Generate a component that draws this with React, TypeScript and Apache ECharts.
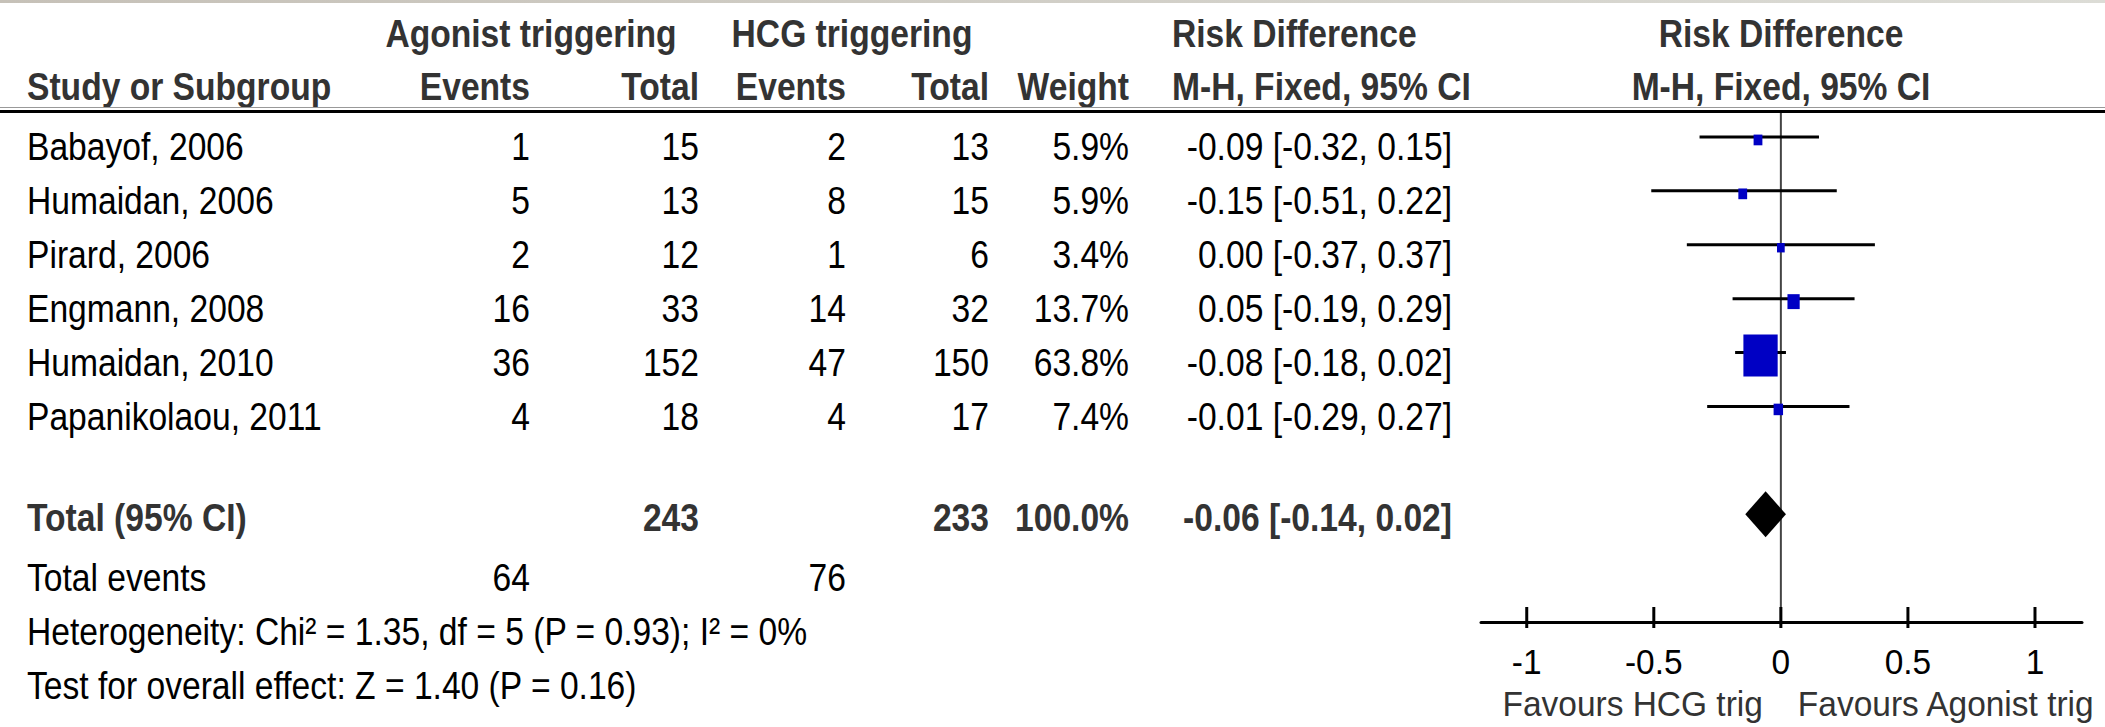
import React, { useEffect, useRef } from 'react';
import * as echarts from 'echarts';

// ---------- data ----------
const studies = ['Babayof, 2006', 'Humaidan, 2006', 'Pirard, 2006', 'Engmann, 2008', 'Humaidan, 2010', 'Papanikolaou, 2011'];
const agonistEvents = [1, 5, 2, 16, 36, 4];
const agonistTotal = [15, 13, 12, 33, 152, 18];
const hcgEvents = [2, 8, 1, 14, 47, 4];
const hcgTotal = [13, 15, 6, 32, 150, 17];
const weights = [5.9, 5.9, 3.4, 13.7, 63.8, 7.4];
const riskDiff = [-0.09, -0.15, 0.0, 0.05, -0.08, -0.01];
const ciLow = [-0.32, -0.51, -0.37, -0.19, -0.18, -0.29];
const ciHigh = [0.15, 0.22, 0.37, 0.29, 0.02, 0.27];

const totalLabel = 'Total (95% CI)';
const totalAgonist = 243;
const totalHcg = 233;
const totalWeight = 100.0;
const totalRD = -0.06;
const totalLow = -0.14;
const totalHigh = 0.02;

const totalEventsLabel = 'Total events';
const totalEventsAgonist = 64;
const totalEventsHcg = 76;
const heterogeneityText = 'Heterogeneity: Chi² = 1.35, df = 5 (P = 0.93); I² = 0%';
const overallEffectText = 'Test for overall effect: Z = 1.40 (P = 0.16)';

const tickValues = [-1, -0.5, 0, 0.5, 1];
const tickLabels = ['-1', '-0.5', '0', '0.5', '1'];
const favoursLeft = 'Favours HCG trig';
const favoursRight = 'Favours Agonist trig';

const headerTop = ['Agonist triggering', 'HCG triggering', 'Risk Difference', 'Risk Difference'];
const headerBottom = ['Study or Subgroup', 'Events', 'Total', 'Events', 'Total', 'Weight', 'M-H, Fixed, 95% CI', 'M-H, Fixed, 95% CI'];

// ---------- layout ----------
const FONT = '"Liberation Sans", Arial, sans-serif';
const FS = 39;
const SX = 0.862;
const FS_AX = 36;
const SX_AX = 0.93;
const COL = {
  study: 27,
  agoEv: 530,
  agoTot: 699,
  hcgEv: 846,
  hcgTot: 989,
  weight: 1129,
  ciRight: 1452,
  ciLeft: 1172,
  plotCenter: 1781,
};
const ROW_TOTAL = 7;
const ROW_TOTAL_EVENTS = 8;
const ROW_HET = 9;
const ROW_TEST = 10;
const AXIS_ROW = 9;

const fmt2 = (v: number) => v.toFixed(2);
const ciText = (m: number, l: number, h: number) => `${fmt2(m)} [${fmt2(l)}, ${fmt2(h)}]`;

type Cell = { text: string; x: number; align: 'left' | 'right' | 'center'; bold?: boolean };
type Row = { row: number; dy: number; cells: Cell[] };

const tableRows: Row[] = [
  ...studies.map((s, i) => ({
    row: i,
    dy: 10,
    cells: [
      { text: s, x: COL.study, align: 'left' as const },
      { text: String(agonistEvents[i]), x: COL.agoEv, align: 'right' as const },
      { text: String(agonistTotal[i]), x: COL.agoTot, align: 'right' as const },
      { text: String(hcgEvents[i]), x: COL.hcgEv, align: 'right' as const },
      { text: String(hcgTotal[i]), x: COL.hcgTot, align: 'right' as const },
      { text: `${weights[i].toFixed(1)}%`, x: COL.weight, align: 'right' as const },
      { text: ciText(riskDiff[i], ciLow[i], ciHigh[i]), x: COL.ciRight, align: 'right' as const },
    ],
  })),
  {
    row: ROW_TOTAL,
    dy: 3,
    cells: [
      { text: totalLabel, x: COL.study, align: 'left', bold: true },
      { text: String(totalAgonist), x: COL.agoTot, align: 'right', bold: true },
      { text: String(totalHcg), x: COL.hcgTot, align: 'right', bold: true },
      { text: `${totalWeight.toFixed(1)}%`, x: COL.weight, align: 'right', bold: true },
      { text: ciText(totalRD, totalLow, totalHigh), x: COL.ciRight, align: 'right', bold: true },
    ],
  },
  {
    row: ROW_TOTAL_EVENTS,
    dy: 10,
    cells: [
      { text: totalEventsLabel, x: COL.study, align: 'left' },
      { text: String(totalEventsAgonist), x: COL.agoEv, align: 'right' },
      { text: String(totalEventsHcg), x: COL.hcgEv, align: 'right' },
    ],
  },
  { row: ROW_HET, dy: 10, cells: [{ text: heterogeneityText, x: COL.study, align: 'left' }] },
  { row: ROW_TEST, dy: 10, cells: [{ text: overallEffectText, x: COL.study, align: 'left' }] },
];

const boxWidth = (w: number) => 6.2 + 0.44 * w;

export default function App() {
  const ref = useRef<HTMLDivElement>(null);

  useEffect(() => {
    const chart = echarts.init(ref.current!, null, { renderer: 'svg' });

    const headerText = (text: string, x: number, y: number, align: string) => ({
      type: 'text',
      x,
      y,
      scaleX: SX,
      silent: true,
      style: {
        text,
        fill: '#333',
        fontFamily: FONT,
        fontSize: FS,
        fontWeight: 'bold',
        align,
        verticalAlign: 'middle',
      },
    });

    const option: any = {
      animation: false,
      backgroundColor: '#ffffff',
      grid: { left: 1481, right: 23, top: 110, bottom: 105, containLabel: false },
      xAxis: {
        type: 'value',
        min: -1.18,
        max: 1.185,
        splitLine: { show: false },
        axisLine: { show: true, onZero: false, lineStyle: { color: '#000', width: 3 } },
        axisTick: { show: false },
        axisLabel: { show: false },
      },
      yAxis: {
        type: 'value',
        inverse: true,
        min: -0.5,
        max: AXIS_ROW,
        show: false,
        splitLine: { show: false },
      },
      graphic: [
        {
          type: 'rect',
          shape: { x: 0, y: 0, width: 2105, height: 3 },
          style: {
            fill: new echarts.graphic.LinearGradient(0, 0, 1, 0, [
              { offset: 0, color: '#c6c1b8' },
              { offset: 1, color: '#dcdcd6' },
            ]),
          },
          silent: true,
        },
        headerText(headerTop[0], 531, 34, 'center'),
        headerText(headerTop[1], 852, 34, 'center'),
        headerText(headerTop[2], COL.ciLeft, 34, 'left'),
        headerText(headerTop[3], COL.plotCenter, 34, 'center'),
        headerText(headerBottom[0], COL.study, 87, 'left'),
        headerText(headerBottom[1], COL.agoEv, 87, 'right'),
        headerText(headerBottom[2], COL.agoTot, 87, 'right'),
        headerText(headerBottom[3], COL.hcgEv, 87, 'right'),
        headerText(headerBottom[4], COL.hcgTot, 87, 'right'),
        headerText(headerBottom[5], COL.weight, 87, 'right'),
        headerText(headerBottom[6], COL.ciLeft, 87, 'left'),
        headerText(headerBottom[7], COL.plotCenter, 87, 'center'),
        {
          type: 'line',
          shape: { x1: 0, y1: 107.5, x2: 2105, y2: 107.5 },
          style: { stroke: '#999', lineWidth: 1 },
          silent: true,
        },
        {
          type: 'line',
          shape: { x1: 0, y1: 111.5, x2: 2105, y2: 111.5 },
          style: { stroke: '#000', lineWidth: 3 },
          silent: true,
        },
      ],
      series: [
        // zero line
        {
          type: 'custom',
          silent: true,
          clip: false,
          z: 1,
          data: [[0]],
          renderItem: (_p: any, api: any) => {
            const top = api.coord([api.value(0), -0.5]);
            const bot = api.coord([api.value(0), AXIS_ROW]);
            return {
              type: 'line',
              shape: { x1: top[0], y1: top[1] + 3, x2: bot[0], y2: bot[1] },
              style: { stroke: '#444', lineWidth: 2 },
            };
          },
        },
        // ticks + tick labels
        {
          type: 'custom',
          silent: true,
          clip: false,
          z: 2,
          data: tickValues.map((v, k) => [v, k]),
          renderItem: (_p: any, api: any) => {
            const p = api.coord([api.value(0), AXIS_ROW]);
            return {
              type: 'group',
              children: [
                {
                  type: 'line',
                  shape: { x1: p[0], y1: p[1] - 15, x2: p[0], y2: p[1] + 6 },
                  style: { stroke: '#000', lineWidth: 3 },
                },
                {
                  type: 'text',
                  x: p[0],
                  y: p[1] + 40,
                  scaleX: SX_AX,
                  style: {
                    text: tickLabels[api.value(1)],
                    fill: '#000',
                    fontFamily: FONT,
                    fontSize: FS_AX,
                    align: 'center',
                    verticalAlign: 'middle',
                  },
                },
              ],
            };
          },
        },
        // favours labels
        {
          type: 'custom',
          silent: true,
          clip: false,
          z: 2,
          data: [[0]],
          renderItem: (_p: any, api: any) => {
            const p = api.coord([api.value(0), AXIS_ROW]);
            const st = { fill: '#333', fontFamily: FONT, fontSize: FS_AX, verticalAlign: 'middle' };
            return {
              type: 'group',
              children: [
                { type: 'text', x: p[0] - 18, y: p[1] + 82, scaleX: SX_AX, style: { ...st, text: favoursLeft, align: 'right' } },
                { type: 'text', x: p[0] + 17, y: p[1] + 82, scaleX: SX_AX, style: { ...st, text: favoursRight, align: 'left' } },
              ],
            };
          },
        },
        // study CIs and boxes
        {
          type: 'custom',
          silent: true,
          clip: false,
          z: 3,
          data: studies.map((_, i) => [riskDiff[i], i, ciLow[i], ciHigh[i], weights[i]]),
          renderItem: (_p: any, api: any) => {
            const row = api.value(1);
            const c = api.coord([api.value(0), row]);
            const l = api.coord([api.value(2), row]);
            const h = api.coord([api.value(3), row]);
            const w = boxWidth(api.value(4));
            const hh = w * 1.22;
            return {
              type: 'group',
              children: [
                {
                  type: 'line',
                  shape: { x1: l[0], y1: l[1], x2: h[0], y2: h[1] },
                  style: { stroke: '#000', lineWidth: 3 },
                },
                {
                  type: 'rect',
                  shape: { x: c[0] - w / 2, y: c[1] + 3 - hh / 2, width: w, height: hh },
                  style: { fill: '#0000c4' },
                },
              ],
            };
          },
        },
        // total diamond
        {
          type: 'custom',
          silent: true,
          clip: false,
          z: 3,
          data: [[totalRD, ROW_TOTAL, totalLow, totalHigh]],
          renderItem: (_p: any, api: any) => {
            const row = api.value(1);
            const c = api.coord([api.value(0), row]);
            const l = api.coord([api.value(2), row]);
            const h = api.coord([api.value(3), row]);
            const half = 23;
            return {
              type: 'polygon',
              shape: {
                points: [
                  [l[0], c[1]],
                  [c[0], c[1] - half],
                  [h[0], c[1]],
                  [c[0], c[1] + half],
                ],
              },
              style: { fill: '#000' },
            };
          },
        },
        // table text
        {
          type: 'custom',
          silent: true,
          clip: false,
          z: 4,
          data: tableRows.map((r, k) => [0, r.row, k]),
          renderItem: (_p: any, api: any) => {
            const r = tableRows[api.value(2)];
            const y = api.coord([0, api.value(1)])[1] + r.dy;
            return {
              type: 'group',
              children: r.cells.map((cell) => ({
                type: 'text',
                x: cell.x,
                y,
                scaleX: SX,
                style: {
                  text: cell.text,
                  fill: cell.bold ? '#333' : '#000',
                  fontFamily: FONT,
                  fontSize: FS,
                  fontWeight: cell.bold ? 'bold' : 'normal',
                  align: cell.align,
                  verticalAlign: 'middle',
                },
              })),
            };
          },
        },
      ],
    };

    chart.setOption(option);
    return () => chart.dispose();
  }, []);

  return (
    <div
      ref={ref}
      style={{ position: 'fixed', left: 0, top: 0, width: 2105, height: 727, background: '#fff' }}
    />
  );
}
